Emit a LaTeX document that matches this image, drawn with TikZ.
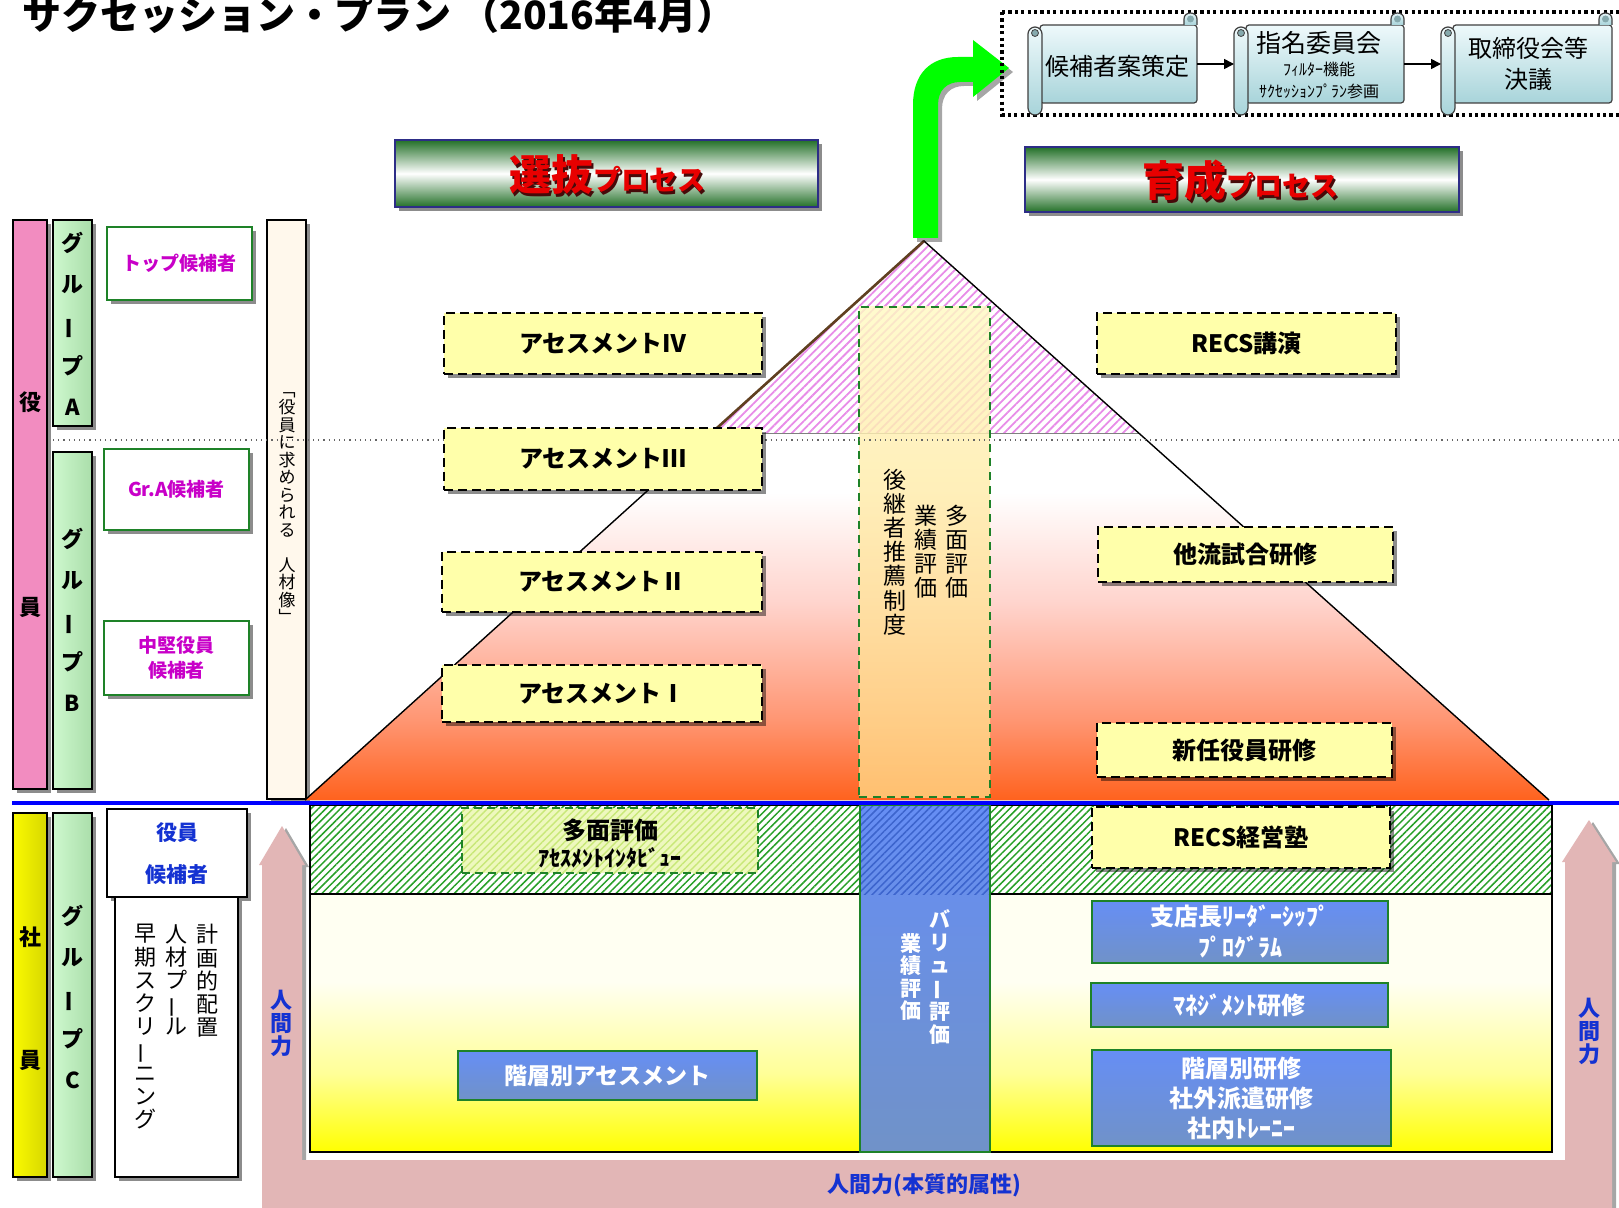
\documentclass[tikz,border=0pt]{standalone}
\usepackage{fontspec}
\setmainfont{Noto Sans CJK JP}
\usetikzlibrary{arrows.meta,shadows,patterns.meta,calc}
\newcommand\fs[2]{\fontsize{#1}{#2}\selectfont}
\newcommand\vb{\rotatebox[origin=c]{90}{ー}}
\definecolor{ylw}{RGB}{255,255,170}
\definecolor{pyrO}{RGB}{255,98,30}
\definecolor{pyrS}{RGB}{255,150,115}
\definecolor{pyrP}{RGB}{255,212,205}
\definecolor{hdrG}{RGB}{35,112,40}
\definecolor{hdrB}{RGB}{45,45,135}
\definecolor{hdrRed}{RGB}{232,0,0}
\definecolor{hdrShadow}{RGB}{70,10,10}
\definecolor{brightG}{RGB}{0,255,0}
\definecolor{scrT}{RGB}{238,249,251}
\definecolor{scrB}{RGB}{168,212,218}
\definecolor{bboxT}{RGB}{102,142,245}
\definecolor{bboxB}{RGB}{112,146,200}
\definecolor{gborder}{RGB}{30,130,40}
\definecolor{pinkU}{RGB}{226,182,182}
\definecolor{colPink}{RGB}{242,140,192}
\definecolor{colGreen}{RGB}{206,248,206}
\definecolor{colGreenD}{RGB}{170,222,170}
\definecolor{colYel}{RGB}{250,250,0}
\definecolor{colYelD}{RGB}{215,215,0}
\definecolor{cream}{RGB}{255,248,236}
\definecolor{mag}{RGB}{200,0,200}
\definecolor{tblue}{RGB}{20,50,210}
\definecolor{hatchG}{RGB}{40,160,40}
\definecolor{hatchP}{RGB}{232,140,232}
\definecolor{ctrT}{RGB}{255,250,195}
\definecolor{ctrB}{RGB}{255,212,130}
\definecolor{ylT}{RGB}{255,255,242}
\definecolor{ylM}{RGB}{255,255,150}
\definecolor{tmF}{RGB}{238,248,190}
\definecolor{tmH}{RGB}{200,232,120}
\definecolor{blH}{RGB}{60,100,205}
\pgfdeclareverticalshading{pyrsh}{100bp}{color(0bp)=(pyrO); color(25bp)=(pyrO); color(36bp)=(pyrS); color(52bp)=(pyrP); color(67bp)=(white); color(100bp)=(white)}
\pgfdeclareverticalshading{ylsh}{100bp}{color(0bp)=(yellow); color(25bp)=(yellow); color(40bp)=(ylM); color(58bp)=(ylT); color(100bp)=(ylT)}
\newcommand\bx[7]{%
  \pgfmathsetmacro\bxw{(#4-#2)*0.5}%
  \pgfmathsetmacro\bxh{(#5-#3)*0.5}%
  \node[#6, minimum width=\bxw pt, minimum height=\bxh pt, inner sep=0pt, outer sep=0pt] (#1) at ({(#2+#4)/2},{(#3+#5)/2}) {#7};%
}
\newcommand\scrollbox[3]{%
  \draw[scr, rounded corners=1.5pt] (#2+12,25) rectangle (#3,103);
  \draw[scr] (#3-13,25) -- (#3-13,19) .. controls (#3-13,11) and (#3,11) .. (#3,19) -- (#3,25);
  \fill[scrB!80!black] (#3-6.5,19) circle[radius=3.5];
  \draw[scr, rounded corners=3.5pt] (#2,27) rectangle (#2+14,115);
  \draw[black!75, fill=scrB!80!black] (#2+7,33) circle[radius=3.5];
  \pgfmathsetmacro\bxw{(#3-#2)*0.5}%
  \node[inner sep=0pt, outer sep=0pt, minimum width=\bxw pt, minimum height=51pt] (#1) at ({(#2+#3)/2},64) {};
}
\newcommand\hdrtext[5]{%
  \node (#1s) [text=hdrShadow] at (#2+2.5,#3+2.5) {{\fs{21}{22}\bfseries #4}{\fs{14}{15}\bfseries #5}};
  \node (#1) [text=hdrRed] at (#2,#3) {{\fs{21}{22}\bfseries #4}{\fs{14}{15}\bfseries #5}};
}
\begin{document}
\begin{tikzpicture}[x=0.5pt,y=-0.5pt,
  shd/.style={drop shadow={shadow xshift=2pt,shadow yshift=-2pt,opacity=.45,fill=black}},
  ybox/.style={draw=black,dash pattern=on 4.5pt off 2.5pt,line width=0.9pt,fill=ylw,shd,font=\fs{12}{14}\bfseries,align=center},
  bluebx/.style={draw=gborder,line width=1.1pt,top color=bboxT,bottom color=bboxB,text=white,font=\fs{12}{15.5}\bfseries,align=center},
  wbox/.style={draw=gborder,line width=1.2pt,fill=white,shd,text=mag,font=\fs{9.5}{12.5}\bfseries,align=center},
  kbox/.style={draw=black,line width=1.2pt,fill=white,shd},
  colp/.style={draw=black,line width=0.9pt,fill=colPink,shd},
  colg/.style={draw=black,line width=0.9pt,left color=colGreen,right color=colGreenD,shd},
  coly/.style={draw=black,line width=0.9pt,left color=colYel,right color=colYelD,shd},
  colc/.style={draw=black,line width=0.8pt,fill=cream,shd},
  hdr/.style={draw=hdrB,line width=1.4pt,top color=hdrG,bottom color=hdrG,middle color=white,shd},
  scr/.style={draw=black!75,line width=0.6pt,top color=scrT,bottom color=scrB},
  vtx/.style={align=center,inner sep=0pt},
]
\useasboundingbox (0,0) rectangle (1619,1208);
\fill[white] (0,0) rectangle (1619,1208);

% title
\node[anchor=base west, font=\fs{19.5}{20}\bfseries, inner sep=0pt] (title) at (22,30) {サクセッション・プラン （2016年4月）};

% left columns
\bx{yak}{13}{220}{47}{789}{colp}{}
\bx{ga}{53}{220}{92}{426}{colg}{}
\bx{gb}{53}{452}{92}{789}{colg}{}
\bx{ideal}{267}{220}{306}{799}{colc}{}
\bx{sha}{13}{813}{47}{1177}{coly}{}
\bx{gc}{53}{813}{92}{1177}{colg}{}
\bx{cand}{107}{809}{247}{897}{kbox}{}
\bx{pool}{115}{897}{238}{1177}{kbox}{}

% pyramid
\coordinate (apex) at (924,241);
\coordinate (pl) at (305,800);
\coordinate (pr) at (1549,800);
\coordinate (tl) at (710.3,434);
\coordinate (tr) at (1139.8,434);
\fill[shading=pyrsh] (tl) -- (tr) -- (pr) -- (pl) -- cycle;
\path[preaction={fill=white}, pattern={Lines[angle=45,distance=3pt,line width=0.9pt]}, pattern color=hatchP] (apex) -- (tr) -- (tl) -- cycle;
\draw[black!50, line width=0.5pt] (tl) -- (tr);
\draw[line width=0.7pt] (pl) -- (apex) -- (pr);
\draw[brown!50!black, line width=1.3pt] (tl) -- (apex);

% center dashed box
\bx{ctr}{859}{307}{990}{797}{draw=gborder,dash pattern=on 4pt off 3pt,line width=1pt,top color=ctrT,bottom color=ctrB,fill opacity=0.82}{}

% dotted separator
\draw[black!60, dotted, line width=0.6pt] (53,440) -- (1619,440);

% green arrow
\fill[brightG, drop shadow={shadow xshift=2pt,shadow yshift=-2pt,opacity=.35,fill=black}]
  (913,238) -- (913,105) .. controls (913,74) and (930,57) .. (958,57) -- (973,57) -- (973,40)
  -- (1009,68) -- (973,97) -- (973,82) -- (960,82) .. controls (947,82) and (938,90) .. (938,105) -- (938,238) -- cycle;

% top right process
\draw[line width=1.6pt, dash pattern=on 1.6pt off 1.6pt] (1002,12) -- (1625,12) (1002,12) -- (1002,115) -- (1625,115);
\scrollbox{s1}{1028}{1197}
\scrollbox{s2}{1234}{1404}
\scrollbox{s3}{1441}{1612}
\node[font=\fs{12}{13}] (s1t) at (1117,66) {候補者案策定};
\node[font=\fs{12.5}{13}] (s2t) at (1319,43) {指名委員会};
\node[font=\fs{8}{9}] (s2u) at (1319,69) {ﾌｨﾙﾀｰ機能};
\node[font=\fs{8}{9}] (s2v) at (1319,91) {ｻｸｾｯｼｮﾝﾌﾟﾗﾝ参画};
\node[font=\fs{12}{15.5}, align=center] (s3t) at (1528,64) {取締役会等\\決議};
\draw[line width=0.8pt, -{Triangle[length=5pt,width=5pt]}] (s1.east) -- (s2.west);
\draw[line width=0.8pt, -{Triangle[length=5pt,width=5pt]}] (s2.east) -- (s3.west);

% headers
\bx{h1}{395}{140}{818}{207}{hdr}{}
\bx{h2}{1025}{147}{1459}{212}{hdr}{}
\hdrtext{h1t}{607}{175}{選抜}{プロセス}
\hdrtext{h2t}{1240}{181}{育成}{プロセス}

% assessment boxes
\bx{a4}{444}{313}{762}{374}{ybox}{アセスメントⅣ}
\bx{a3}{444}{428}{762}{490}{ybox}{アセスメントⅢ}
\bx{a2}{442}{552}{762}{612}{ybox}{アセスメントⅡ}
\bx{a1}{442}{665}{762}{722}{ybox}{アセスメントⅠ}
\bx{r1}{1097}{313}{1396}{374}{ybox}{RECS講演}
\bx{r2}{1098}{527}{1393}{582}{ybox}{他流試合研修}
\bx{r3}{1097}{723}{1392}{777}{ybox}{新任役員研修}

% center texts
\node[vtx, font=\fs{11.5}{12}] (c1) at (957,552) {多\\面\\評\\価};
\node[vtx, font=\fs{11.5}{12}] (c2) at (926,552) {業\\績\\評\\価};
\node[vtx, font=\fs{11.5}{12.1}] (c3) at (895,552) {後\\継\\者\\推\\薦\\制\\度};

% pink U arrow
\fill[pinkU, drop shadow={shadow xshift=2pt,shadow yshift=-1pt,opacity=.35,fill=black}]
  (262,1212) -- (262,865) -- (259,865) -- (282,826) -- (305,865) -- (302,865) -- (302,1160)
  -- (1565,1160) -- (1565,862) -- (1562,862) -- (1589,820) -- (1616,862) -- (1612,862) -- (1612,1212) -- cycle;

% bottom section
\path[preaction={fill=white}, pattern={Lines[angle=45,distance=2.6pt,line width=0.75pt]}, pattern color=hatchG] (310,805) rectangle (1552,894);
\draw[line width=0.7pt] (310,805) rectangle (1552,894);
\fill[shading=ylsh] (310,894) rectangle (1552,1152);
\draw[line width=1pt] (310,894) rectangle (1552,1152);
\fill[top color=bboxT, bottom color=bboxB] (860,805) rectangle (990,1152);
\path[pattern={Lines[angle=45,distance=2.6pt,line width=0.75pt]}, pattern color=blH] (860,805) rectangle (990,894);
\bx{bcol}{860}{805}{990}{1152}{draw=gborder,line width=1pt}{}
\draw[blue, line width=2pt] (12,803) -- (1619,803);

\bx{tm}{462}{808}{758}{873}{draw=gborder,dash pattern=on 4pt off 2.5pt,line width=1pt,preaction={fill=tmF},pattern={Lines[angle=45,distance=2.6pt,line width=0.7pt]},pattern color=tmH}{}
\node[font=\fs{12}{14}\bfseries] (tmt) at (610,830) {多面評価};
\node[font=\fs{11}{13}\bfseries] (tmu) at (610,858) {ｱｾｽﾒﾝﾄｲﾝﾀﾋﾞｭｰ};
\bx{recs}{1092}{807}{1390}{868}{ybox}{RECS経営塾}
\bx{b1}{1092}{901}{1388}{963}{bluebx}{支店長ﾘｰﾀﾞｰｼｯﾌﾟ\\ﾌﾟﾛｸﾞﾗﾑ}
\bx{b2}{1091}{983}{1388}{1027}{bluebx}{ﾏﾈｼﾞﾒﾝﾄ研修}
\bx{b3}{1092}{1050}{1391}{1146}{bluebx,font=\fs{12}{15}\bfseries}{階層別研修\\社外派遣研修\\社内ﾄﾚｰﾆｰ}
\bx{b4}{458}{1051}{757}{1100}{bluebx,font=\fs{11.5}{13}\bfseries}{階層別アセスメント}

\node[vtx, font=\fs{10.5}{11.25}\bfseries, text=white] (v1) at (940,977) {バ\\リ\\ュ\\\vb\\評\\価};
\node[vtx, font=\fs{10.5}{11.25}\bfseries, text=white] (v2) at (911,977) {業\\績\\評\\価};

\node[vtx, font=\fs{11}{11.5}\bfseries, text=tblue] (hl) at (281,1023) {人\\間\\力};
\node[vtx, font=\fs{11}{11.5}\bfseries, text=tblue] (hr) at (1589,1031) {人\\間\\力};
\node[font=\fs{11}{12}\bfseries, text=tblue] (hb) at (924,1185) {人間力(本質的属性)};

% left texts
\node[font=\fs{11}{12}\bfseries] (yk1) at (30,402) {役};
\node[font=\fs{11}{12}\bfseries] (yk2) at (30,607) {員};
\node[font=\fs{11}{12}\bfseries] (sh1) at (30,937) {社};
\node[font=\fs{11}{12}\bfseries] (sh2) at (30,1060) {員};
\node[vtx, font=\fs{11}{20.5}\bfseries] (gat) at (72.5,324) {グ\\ル\\\vb\\プ\\A};
\node[vtx, font=\fs{11}{20.5}\bfseries] (gbt) at (72.5,620) {グ\\ル\\\vb\\プ\\B};
\node[vtx, font=\fs{11}{20.5}\bfseries] (gct) at (72.5,997) {グ\\ル\\\vb\\プ\\C};
\bx{top}{107}{227}{252}{300}{wbox}{トップ候補者}
\bx{gra}{104}{449}{249}{530}{wbox}{Gr.A候補者}
\bx{chu}{104}{621}{249}{695}{wbox}{中堅役員\\候補者}
\node[vtx, font=\fs{8.5}{8.75}] (idt) at (287,508) {﹁\\役\\員\\に\\求\\め\\ら\\れ\\る\\　\\人\\材\\像\\﹂};
\node[font=\fs{10.5}{12}\bfseries, text=tblue] (cd1) at (177,833) {役員};
\node[font=\fs{10.5}{12}\bfseries, text=tblue] (cd2) at (177,875) {候補者};
\node[vtx, font=\fs{11}{11.6}, anchor=north] (p1) at (207,924) {計\\画\\的\\配\\置};
\node[vtx, font=\fs{11}{11.6}, anchor=north] (p2) at (176,924) {人\\材\\プ\\\vb\\ル};
\node[vtx, font=\fs{11}{11.6}, anchor=north] (p3) at (145,924) {早\\期\\ス\\ク\\リ\\\vb\\ニ\\ン\\グ};
\end{tikzpicture}
\end{document}
